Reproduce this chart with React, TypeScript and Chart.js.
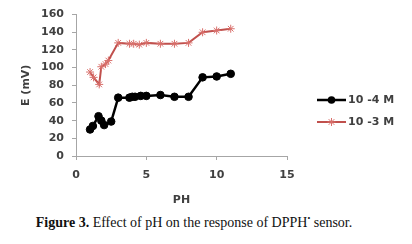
import React, { useEffect, useRef } from "react";
import { Chart, registerables } from "chart.js";

Chart.register(...registerables);

const blackX = [1.0, 1.2, 1.6, 1.8, 2.0, 2.5, 3.0, 3.8, 4.0, 4.2, 4.6, 5.0, 6.0, 7.0, 8.0, 9.0, 10.0, 11.0];
const blackY = [30, 34, 45, 40, 35, 39, 66, 66, 67, 67, 68, 68, 69, 67, 67, 89, 90, 93];

const redX = [1.0, 1.25, 1.65, 1.8, 2.1, 2.3, 3.0, 3.8, 4.1, 4.5, 5.0, 6.0, 7.0, 8.0, 9.0, 10.0, 11.0];
const redY = [95, 89, 81, 101, 104, 108, 128, 127, 127, 126, 128, 127, 127, 128, 140, 142, 144];

const seriesLabels = ["10 -4 M", "10 -3 M"];
const xTicks = [0, 5, 10, 15];
const yTicks = [0, 20, 40, 60, 80, 100, 120, 140, 160];

const axisColor = "#404040";
const tickFont = { family: "DejaVu Sans", size: 11, weight: "bold" as const };

function drawMarker(ctx: CanvasRenderingContext2D, style: string, r: number, x: number, y: number) {
  ctx.beginPath();
  if (style === "circle") {
    ctx.arc(x, y, r, 0, Math.PI * 2);
    ctx.fill();
  } else {
    for (let k = 0; k < 4; k++) {
      const a = (k * Math.PI) / 4;
      ctx.moveTo(x - r * Math.cos(a), y - r * Math.sin(a));
      ctx.lineTo(x + r * Math.cos(a), y + r * Math.sin(a));
    }
    ctx.stroke();
  }
}

const legendPlugin = {
  id: "customLegend",
  afterDraw(chart: any) {
    const ctx = chart.ctx;
    const entries = [
      { y: 100, ds: chart.data.datasets[0] },
      { y: 122, ds: chart.data.datasets[1] },
    ];
    ctx.save();
    entries.forEach((e) => {
      const x0 = 317;
      const x1 = 346;
      ctx.strokeStyle = e.ds.borderColor;
      ctx.lineWidth = e.ds.borderWidth;
      ctx.beginPath();
      ctx.moveTo(x0, e.y);
      ctx.lineTo(x1, e.y);
      ctx.stroke();
      ctx.fillStyle = e.ds.pointBackgroundColor;
      ctx.strokeStyle = e.ds.pointBorderColor;
      ctx.lineWidth = e.ds.pointBorderWidth;
      drawMarker(ctx, e.ds.pointStyle, e.ds.pointRadius, (x0 + x1) / 2, e.y);
      ctx.fillStyle = axisColor;
      ctx.font = "bold 11px 'DejaVu Sans'";
      ctx.textBaseline = "middle";
      ctx.textAlign = "left";
      ctx.fillText(e.ds.label, 348, e.y + 0.5);
    });
    ctx.restore();
  },
};

export default function App() {
  const ref = useRef<HTMLCanvasElement | null>(null);

  useEffect(() => {
    if (!ref.current) return;
    const chart = new Chart(ref.current, {
      type: "line",
      data: {
        datasets: [
          {
            label: seriesLabels[0],
            data: blackX.map((x, i) => ({ x, y: blackY[i] })),
            borderColor: "#000000",
            backgroundColor: "#000000",
            pointBackgroundColor: "#000000",
            pointBorderColor: "#000000",
            borderWidth: 2.5,
            pointRadius: 3.8,
            pointBorderWidth: 1,
            pointStyle: "circle",
            tension: 0,
          },
          {
            label: seriesLabels[1],
            data: redX.map((x, i) => ({ x, y: redY[i] })),
            borderColor: "#C0504D",
            backgroundColor: "#C0504D",
            pointBackgroundColor: "#C0504D",
            pointBorderColor: "#D9706C",
            borderWidth: 2,
            pointRadius: 4,
            pointBorderWidth: 1,
            pointStyle: "star",
            tension: 0,
          },
        ],
      },
      options: {
        animation: false,
        responsive: false,
        maintainAspectRatio: false,
        layout: { padding: { left: 16, right: 125, top: 14, bottom: 0 } },
        plugins: {
          legend: { display: false },
          tooltip: { enabled: false },
        },
        scales: {
          x: {
            type: "linear",
            min: 0,
            max: 15,
            afterBuildTicks: (s: any) => {
              s.ticks = xTicks.map((v) => ({ value: v }));
            },
            afterFit: (s: any) => {
              s.height = 54;
            },
            grid: {
              display: true,
              drawOnChartArea: false,
              drawTicks: true,
              tickLength: 4,
              color: "#a6a6a6",
            },
            border: { display: true, color: "#a6a6a6", width: 1 },
            ticks: { color: axisColor, font: tickFont, padding: 9, maxRotation: 0 },
            title: {
              display: true,
              text: "PH",
              color: axisColor,
              font: tickFont,
              padding: { top: 4, bottom: 3 },
            },
          },
          y: {
            type: "linear",
            min: 0,
            max: 160,
            afterBuildTicks: (s: any) => {
              s.ticks = yTicks.map((v) => ({ value: v }));
            },
            afterFit: (s: any) => {
              s.width = 60;
            },
            grid: {
              display: true,
              drawOnChartArea: false,
              drawTicks: true,
              tickLength: 4,
              color: "#a6a6a6",
            },
            border: { display: true, color: "#a6a6a6", width: 1 },
            ticks: { color: axisColor, font: tickFont, padding: 8 },
            title: {
              display: true,
              text: "E (mV)",
              color: axisColor,
              font: tickFont,
              padding: { top: 4, bottom: 4 },
            },
          },
        },
      },
      plugins: [legendPlugin],
    });
    return () => chart.destroy();
  }, []);

  return (
    <div style={{ position: "absolute", left: 0, top: 0, width: 412, height: 244, background: "#fff" }}>
      <canvas ref={ref} width={412} height={210} style={{ position: "absolute", left: 0, top: 0, width: 412, height: 210 }} />
      <div
        style={{
          position: "absolute",
          left: 0,
          top: 210,
          width: 388,
          textAlign: "center",
          fontFamily: "'Liberation Serif', serif",
          fontSize: 14,
          lineHeight: "18px",
          color: "#111",
        }}
      >
        <b>Figure 3.</b> Effect of pH on the response of DPPH<sup style={{ fontSize: 8 }}>•</sup> sensor.
      </div>
    </div>
  );
}
